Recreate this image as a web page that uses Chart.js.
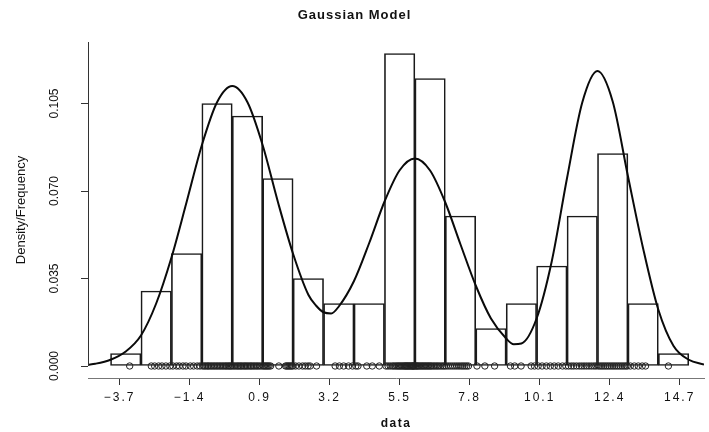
<!DOCTYPE html>
<html>
<head>
<meta charset="utf-8">
<script src="https://cdn.jsdelivr.net/npm/chart.js@4"></script>
<style>
  html, body { margin: 0; padding: 0; background: #ffffff; }
  #wrap { width: 709px; height: 432px; position: relative; }
</style>
</head>
<body>
<div id="wrap"><canvas id="chart"></canvas></div>
<script>
// Histogram bins (unit width) and their densities
const binStarts = [-4, -3, -2, -1, 0, 1, 2, 3, 4, 5, 6, 7, 8, 9, 10, 11, 12, 13, 14];
const binDensity = [0.005, 0.030, 0.045, 0.105, 0.100, 0.075, 0.035, 0.025, 0.025,
                    0.125, 0.115, 0.060, 0.015, 0.025, 0.040, 0.060, 0.085, 0.025, 0.005];

// Fitted three-component Gaussian density, sampled along the axis
const curveX = [-4.75, -4.5, -4, -3.5, -3, -2.5, -2, -1.5, -1, -0.5,
                0, 0.5, 1, 1.5, 2, 2.5, 2.75, 3, 3.25, 3.5,
                4, 4.5, 5, 5.5, 6, 6.5, 7, 7.5, 8, 8.5,
                9, 9.25, 9.5, 10, 10.5, 11, 11.5, 12, 12.5, 13,
                13.5, 14, 14.5, 15, 15.5];
const curveY = [0.0005, 0.0009, 0.0025, 0.0058, 0.0122, 0.0250, 0.0433, 0.0656, 0.0883, 0.1055,
                0.1120, 0.1055, 0.0883, 0.0656, 0.0448, 0.0285, 0.0242, 0.0215, 0.0210, 0.0238,
                0.0340, 0.0492, 0.0657, 0.0783, 0.0830, 0.0782, 0.0654, 0.0486, 0.0322, 0.0190,
                0.0110, 0.0087, 0.0090, 0.0190, 0.0420, 0.0752, 0.1054, 0.1180, 0.1058, 0.0760,
                0.0470, 0.0225, 0.0080, 0.0025, 0.0006];

// Individual observations shown as a rug along zero
const rugValues = [
  -3.37,
  -2.66, -2.55, -2.42, -2.31, -2.18, -2.05,
  -1.95, -1.83, -1.74, -1.62, -1.52, -1.38, -1.27, -1.15, -1.06,
  -0.97, -0.92, -0.87, -0.82, -0.78, -0.73, -0.68, -0.63, -0.58, -0.53, -0.48,
  -0.43, -0.38, -0.33, -0.28, -0.23, -0.19, -0.14, -0.10, -0.06, -0.02,
  0.03, 0.08, 0.13, 0.18, 0.22, 0.27, 0.31, 0.36, 0.41, 0.45,
  0.50, 0.55, 0.60, 0.64, 0.69, 0.74, 0.79, 0.84, 0.89, 0.95,
  1.01, 1.05, 1.09, 1.13, 1.17, 1.21, 1.26, 1.53, 1.75, 1.79, 1.83, 1.87, 1.91, 1.95, 1.99,
  2.08, 2.19, 2.31, 2.40, 2.49, 2.56, 2.77,
  3.38, 3.52, 3.66, 3.82, 3.95,
  4.06, 4.13, 4.42, 4.60, 4.83,
  5.05, 5.12, 5.19, 5.26, 5.31, 5.36, 5.41, 5.45, 5.49, 5.53, 5.57, 5.61, 5.65,
  5.68, 5.71, 5.74, 5.77, 5.80, 5.83, 5.86, 5.89, 5.92, 5.94, 5.96, 5.98,
  6.02, 6.05, 6.08, 6.11, 6.15, 6.19, 6.23, 6.27, 6.31, 6.35, 6.39, 6.43,
  6.47, 6.51, 6.55, 6.60, 6.65, 6.70, 6.75, 6.80, 6.86, 6.92, 6.97,
  7.03, 7.10, 7.17, 7.24, 7.31, 7.38, 7.45, 7.52, 7.58, 7.64, 7.70, 7.76,
  8.04, 8.30, 8.62,
  9.14, 9.28, 9.49, 9.82, 9.93,
  10.05, 10.18, 10.32, 10.45, 10.58, 10.71, 10.85, 10.96,
  11.05, 11.14, 11.22, 11.31, 11.40, 11.48, 11.56, 11.64, 11.72, 11.80, 11.88, 11.95,
  12.03, 12.09, 12.15, 12.21, 12.27, 12.33, 12.39, 12.45, 12.51, 12.57, 12.63, 12.69,
  12.75, 12.81, 12.87, 12.93, 12.98,
  13.08, 13.21, 13.34, 13.47, 13.58,
  14.33
];

// Axis ticks
const xTickValues = [-3.7, -1.4, 0.9, 3.2, 5.5, 7.8, 10.1, 12.4, 14.7];
const xTickLabels = ['\u22123.7', '\u22121.4', '0.9', '3.2', '5.5', '7.8', '10.1', '12.4', '14.7'];
const yTickValues = [0, 0.035, 0.070, 0.105];
const yTickLabels = ['0.000', '0.035', '0.070', '0.105'];

const NARROW = '"Liberation Sans Narrow", "Arial Narrow", "Liberation Sans", sans-serif';
const SANS = '"Liberation Sans", Arial, Helvetica, sans-serif';

// Wraps a scale drawing method so its text uses a given letter spacing
function withSpacing(scale, method, spacing) {
  const flag = '__spaced_' + method;
  if (!scale || scale[flag]) return;
  const original = scale[method];
  scale[method] = function (...args) {
    const ctx = this.ctx;
    const prev = ctx.letterSpacing;
    ctx.letterSpacing = spacing;
    original.apply(this, args);
    ctx.letterSpacing = prev;
  };
  scale[flag] = true;
}

const spacingPlugin = {
  id: 'spacing',
  beforeDraw(chart) {
    chart.ctx.letterSpacing = '1px';
    withSpacing(chart.scales.x, 'drawLabels', '2px');
    withSpacing(chart.scales.x, 'drawTitle', '1.5px');
    withSpacing(chart.scales.y, 'drawLabels', '0px');
    withSpacing(chart.scales.y, 'drawTitle', '0px');
  },
  afterDraw(chart) {
    chart.ctx.letterSpacing = '0px';
  }
};

// Vertical axis line running from zero up to the top of the plot
const yAxisLine = {
  id: 'yAxisLine',
  afterDraw(chart) {
    const { ctx, chartArea, scales } = chart;
    const x = Math.round(chartArea.left) + 0.5;
    ctx.save();
    ctx.strokeStyle = '#333';
    ctx.lineWidth = 1;
    ctx.beginPath();
    ctx.moveTo(x, scales.y.getPixelForValue(0));
    ctx.lineTo(x, chartArea.top);
    ctx.stroke();
    ctx.restore();
  }
};

const histData = binStarts.map((s, i) => ({ x: s + 0.5, y: binDensity[i] }));
const curveData = curveX.map((x, i) => ({ x: x, y: curveY[i] }));
const rugData = rugValues.map(v => ({ x: v, y: 0 }));

new Chart(document.getElementById('chart'), {
  type: 'bar',
  data: {
    datasets: [
      {
        type: 'line',
        label: 'density',
        data: curveData,
        borderColor: '#0a0a0a',
        borderWidth: 2,
        pointRadius: 0,
        fill: false,
        cubicInterpolationMode: 'monotone'
      },
      {
        type: 'line',
        label: 'observations',
        data: rugData,
        showLine: false,
        pointStyle: 'circle',
        pointRadius: 3.2,
        pointBorderWidth: 1,
        pointBorderColor: '#222',
        pointBackgroundColor: 'rgba(0,0,0,0)'
      },
      {
        type: 'bar',
        label: 'histogram',
        data: histData,
        backgroundColor: 'rgba(0,0,0,0)',
        borderColor: '#1a1a1a',
        borderWidth: 1,
        borderSkipped: false,
        barPercentage: 1,
        categoryPercentage: 1
      }
    ]
  },
  options: {
    responsive: true,
    maintainAspectRatio: false,
    animation: false,
    events: [],
    layout: { padding: 0 },
    plugins: {
      legend: { display: false },
      tooltip: { enabled: false },
      title: {
        display: true,
        text: 'Gaussian Model',
        color: '#111',
        font: { family: SANS, size: 13, weight: 'bold' },
        padding: { top: 8, bottom: 18.4 }
      }
    },
    scales: {
      x: {
        type: 'linear',
        min: -4.74,
        max: 15.5,
        offset: false,
        afterBuildTicks(scale) { scale.ticks = xTickValues.map(v => ({ value: v })); },
        afterFit(scale) { scale.height = 54; },
        ticks: {
          autoSkip: false,
          maxRotation: 0,
          padding: 5,
          color: '#111',
          font: { family: SANS, size: 12 },
          callback: (value, index) => xTickLabels[index]
        },
        grid: {
          display: true,
          offset: false,
          drawOnChartArea: false,
          drawTicks: true,
          tickLength: 7,
          color: '#333'
        },
        border: { display: true, color: '#777', width: 1 },
        title: {
          display: true,
          text: 'data',
          color: '#111',
          font: { family: SANS, size: 12, weight: 'bold' },
          padding: { top: 0, bottom: 1 }
        }
      },
      y: {
        type: 'linear',
        min: -0.0048,
        max: 0.1296,
        afterBuildTicks(scale) { scale.ticks = yTickValues.map(v => ({ value: v })); },
        afterFit(scale) { scale.width = 88; },
        ticks: {
          minRotation: 90,
          maxRotation: 90,
          crossAlign: 'center',
          padding: 11,
          color: '#111',
          font: { family: NARROW, size: 12 },
          callback: (value, index) => yTickLabels[index]
        },
        grid: {
          display: true,
          drawOnChartArea: false,
          drawTicks: true,
          tickLength: 7,
          color: '#333'
        },
        border: { display: false },
        title: {
          display: true,
          text: 'Density/Frequency',
          color: '#111',
          font: { family: NARROW, size: 13 },
          padding: { top: 14, bottom: 0 }
        }
      }
    }
  },
  plugins: [spacingPlugin, yAxisLine]
});
</script>
</body>
</html>
